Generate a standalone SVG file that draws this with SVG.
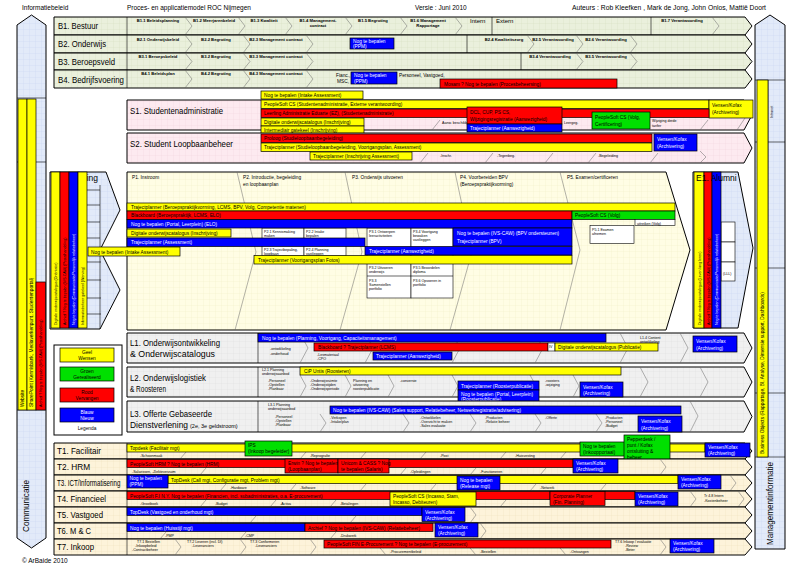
<svg xmlns="http://www.w3.org/2000/svg" width="788" height="569" viewBox="0 0 788 569">
<defs>
<style>
text{font-family:"Liberation Sans",Arial,Helvetica,sans-serif;fill:#000}
.h{font-size:6.5px}
.lb{font-size:9px}
.c{font-size:4.2px;font-weight:bold;text-anchor:middle}
.t{font-size:4.8px}
.tt{font-size:3.6px}
.tw{fill:#fff}
.k{stroke:#000;stroke-width:1}
.ln{stroke:#000;stroke-width:0.6;fill:none}
.gl{stroke:#666;stroke-width:0.5;fill:none}
.Y{fill:#ffff00;stroke:#000;stroke-width:0.7}
.R{fill:#ff0000;stroke:#000;stroke-width:0.7}
.B{fill:#0000ff;stroke:#000;stroke-width:0.7}
.G{fill:#00e000;stroke:#000;stroke-width:0.7}
.W{fill:#fff;stroke:#000;stroke-width:0.6}
</style>
<pattern id="pb" width="6" height="6" patternUnits="userSpaceOnUse"><rect width="6" height="6" fill="#e2eaf9"/><path d="M6 0V6H0" fill="none" stroke="#c6d4ee" stroke-width="0.5"/></pattern>
<pattern id="pg" width="6" height="6" patternUnits="userSpaceOnUse"><rect width="6" height="6" fill="#eaf0dc"/><path d="M6 0V6H0" fill="none" stroke="#d3ddbb" stroke-width="0.5"/></pattern>
<pattern id="pp" width="6" height="6" patternUnits="userSpaceOnUse"><rect width="6" height="6" fill="#fdeaf0"/><path d="M6 0V6H0" fill="none" stroke="#f1d3dd" stroke-width="0.5"/></pattern>
<pattern id="py" width="6" height="6" patternUnits="userSpaceOnUse"><rect width="6" height="6" fill="#fffde4"/><path d="M6 0V6H0" fill="none" stroke="#efeac4" stroke-width="0.5"/></pattern>
<pattern id="pl" width="6" height="6" patternUnits="userSpaceOnUse"><rect width="6" height="6" fill="#f0f0f0"/><path d="M6 0V6H0" fill="none" stroke="#dcdcdc" stroke-width="0.5"/></pattern>
<pattern id="pt" width="6" height="6" patternUnits="userSpaceOnUse"><rect width="6" height="6" fill="#fdf3da"/><path d="M6 0V6H0" fill="none" stroke="#ece0bd" stroke-width="0.5"/></pattern>
</defs>
<rect width="788" height="569" fill="#fff"/>

<g id="header">
<text class="h" x="22" y="10">Informatiebeleid</text>
<text class="h" x="127" y="10">Proces- en applicatiemodel ROC Nijmegen</text>
<text class="h" x="415" y="10">Versie : Juni 2010</text>
<text class="h" x="572" y="10" textLength="194" lengthAdjust="spacingAndGlyphs">Auteurs : Rob Kleefken , Mark de Jong, John Onlos, Mattië Doort</text>
<text class="h" x="22" y="563">© ArBaide 2010</text>
</g>

<g id="informatiebeleid">
<path d="M17,25 L31.5,15 L46,25 L46,538 L31.5,548 L17,538 Z" fill="url(#pb)" class="k"/>
<path class="ln" d="M17,98H46M17,162H46M17,410H46"/>
<rect class="Y" x="18" y="99" width="9" height="311"/>
<rect class="Y" x="27" y="99" width="9" height="311"/>
<rect class="R" x="36" y="282" width="9.5" height="128"/>
<text class="t" transform="rotate(-90 24.2 407)" x="24.2" y="407">Website</text>
<text class="t" transform="rotate(-90 33.2 407)" x="33.2" y="407">SharePoint (Kennisbank, Mediaverkenpunt, Studentenportal)</text>
<text class="tt" transform="rotate(-90 42 407)" x="42" y="407">Archief ? Nog te bepalen (IVS-CAW) (Postafhandeling)</text>
<text transform="rotate(-90 29 532)" x="29" y="532" font-size="9.5" textLength="52" lengthAdjust="spacingAndGlyphs">Communicatie</text>
</g>

<g id="managementinformatie">
<path d="M755,25 L770,15 L785,25 L785,549 L755,549 Z" fill="url(#pb)" class="k"/>
<path class="ln" d="M755,80H785M755,142H785M755,268H785M755,393H785M755,457H785M768,80V457"/>
<rect class="Y" x="757" y="80" width="11" height="377"/>
<text class="t" font-size="4.7" transform="rotate(-90 764.2 454)" x="764.2" y="454">Business Objects (Rapportage, BI, Analyse, Dimensie support, Dashboards)</text>
<text class="tt" transform="rotate(-90 773 118)" x="773" y="118">Intranet</text>
<text font-size="9" transform="rotate(-90 773 545)" x="773" y="545" textLength="83" lengthAdjust="spacingAndGlyphs">Managementinformatie</text>
</g>

<g id="b1">
<polygon points="54,17 745,17 752,26 745,35 54,35" fill="url(#pg)" class="k"/>
<path class="ln" d="M127,17V35M492,17V88M651,17V35"/>
<path class="gl" d="M185,17L192,26L185,35M238,17L245,26L238,35M285,17L292,26L285,35M345,17L352,26L345,35M400,17L407,26L400,35M455,17L462,26L455,35M712,17L719,26L712,35"/>
<text class="lb" x="58" y="29" textLength="40" lengthAdjust="spacingAndGlyphs">B1. Bestuur</text>
<text class="c" x="158" y="22">B1.1 Beleidsplanning</text>
<text class="c" x="214" y="22">B1.2 Meerjarenbeleid</text>
<text class="c" x="264" y="22">B1.3 Kwaliteit</text>
<text class="c" x="318" y="22">B1.4 Management-</text><text class="c" x="318" y="27">contract</text>
<text class="c" x="373" y="22">B1.5 Begroting</text>
<text class="c" x="428" y="22">B1.6 Management</text><text class="c" x="428" y="27">Rapportage</text>
<text font-size="6" x="470" y="23">Intern</text>
<text font-size="6" x="496" y="23">Extern</text>
<text class="c" x="682" y="22">B1.7 Verantwoording</text>
</g>

<g id="b2">
<polygon points="54,35 745,35 752,44 745,53 54,53" fill="url(#pg)" class="k"/>
<path class="ln" d="M127,35V53M467,35V53"/>
<path class="gl" d="M185,35L192,44L185,53M243,35L250,44L243,53M306,35L313,44L306,53M527,35L534,44L527,53M576,35L583,44L576,53M630,35L637,44L630,53"/>
<text class="lb" x="58" y="47" textLength="48" lengthAdjust="spacingAndGlyphs">B2. Onderwijs</text>
<text class="c" x="158" y="41">B2.1 Onderwijsbeleid</text>
<text class="c" x="216" y="41">B2.2 Begroting</text>
<text class="c" x="276" y="41">B2.3 Management contract</text>
<rect class="B" x="350" y="38" width="44" height="11"/>
<text class="t tw" font-size="4.4" x="353" y="42.5">Nog te bepalen</text><text class="t tw" font-size="4.4" x="353" y="47.8">(PPM)</text>
<text class="c" x="504" y="41">B2.4 Kwaliteitszorg</text>
<text class="c" x="553" y="41">B2.5 Verantwoording</text>
<text class="c" x="606" y="41">B2.6 Verantwoording</text>
</g>

<g id="b3">
<polygon points="54,53 745,53 752,61.5 745,70 54,70" fill="url(#pg)" class="k"/>
<path class="ln" d="M127,53V70M521,53V70"/>
<path class="gl" d="M185,53L192,61.5L185,70M243,53L250,61.5L243,70M306,53L313,61.5L306,70M576,53L583,61.5L576,70M630,53L637,61.5L630,70"/>
<text class="lb" x="58" y="65" textLength="57" lengthAdjust="spacingAndGlyphs">B3. Beroepsveld</text>
<text class="c" x="158" y="58">B3.1 Beroepsbeleid</text>
<text class="c" x="216" y="58">B3.2 Begroting</text>
<text class="c" x="276" y="58">B3.3 Management contract</text>
<text class="c" x="550" y="58">B3.4 Verantwoording</text>
<text class="c" x="606" y="58">B3.5 Verantwoording</text>
</g>

<g id="b4">
<polygon points="54,70 745,70 752,79 745,88 54,88" fill="url(#pg)" class="k"/>
<path class="ln" d="M127,70V88"/>
<path class="gl" d="M185,70L192,79L185,88M243,70L250,79L243,88M306,70L313,79L306,88"/>
<text class="lb" x="58" y="83" textLength="66" lengthAdjust="spacingAndGlyphs">B4. Bedrijfsvoering</text>
<text class="c" x="158" y="75">B4.1 Beleidsplan</text>
<text class="c" x="216" y="75">B4.2 Begroting</text>
<text class="c" x="276" y="75">B4.3 Management contract</text>
<text class="t" x="336" y="77">Fianc.,</text><text class="t" x="337" y="83">MSC,</text>
<rect class="B" x="351" y="72" width="46" height="12"/>
<text class="t tw" font-size="4.5" x="354" y="77">Nog te bepalen</text><text class="t tw" font-size="4.5" x="354" y="82.6">(PPM)</text>
<text class="t" x="399" y="77">Personeel, Vastgoed,</text>
<rect class="R" x="440" y="79" width="177" height="9"/>
<text class="t" x="444" y="85.5">Mosam ? Nog te bepalen (Procesbeheersing)</text>
</g>

<g id="s1">
<polygon points="127,100 744,100 752,115 744,130 127,130" fill="url(#pp)" class="k"/>
<path class="gl" d="M432,130L440,120M548,130L556,120M612,130L620,120M700,130L708,120M737,130L745,118"/>
<text font-size="9.5" x="130" y="114" textLength="93" lengthAdjust="spacingAndGlyphs">S1. Studentenadministratie</text>
<rect class="Y" x="261" y="91" width="102" height="8"/><text class="t" x="264" y="97">Nog te bepalen (Intake Assessment)</text>
<rect class="Y" x="261" y="100" width="448" height="8.5"/><text class="t" x="264" y="106">PeopleSoft CS (Studentenadministratie, Externe verantwoording)</text>
<rect class="Y" x="709" y="100" width="44" height="18"/><text class="t" x="712" y="107">Vensen/Kofax</text><text class="t" x="712" y="114">(Archivering)</text>
<rect class="R" x="261" y="109" width="448" height="8.5"/><text class="t" x="264" y="115">Leerling Administratie Eduarte (EZ), (Studentenadministratie)</text>
<rect class="Y" x="261" y="118" width="103" height="8"/><text class="t" x="264" y="124">Digitale onderwijscatalogus (Inschrijving)</text>
<rect class="Y" x="261" y="126" width="103" height="8"/><text class="t" x="264" y="132">Intermediair gatekeel (Inschrijving)</text>
<text class="tt" x="442" y="124">Aanw. beschikbaar</text>
<rect class="R" x="467" y="107" width="95" height="17"/><text class="t" x="470" y="114">DCL, CUP, PS CS,</text><text class="t" x="470" y="121">Wijzigingsregistratie (Aanwezigheid)</text>
<rect class="B" x="467" y="124" width="95" height="8"/><text class="t tw" x="470" y="130">Trajectplanner (Aanwezigheid)</text>
<text class="tt" x="564" y="124">Leergeg.</text>
<rect class="G" x="592" y="112" width="58" height="17"/><text class="t" x="595" y="119">PeopleSoft CS (Volg,</text><text class="t" x="595" y="126">Certificering)</text>
<text class="tt" x="652" y="122">Wijziging derde</text><text class="tt" x="652" y="127">tarifer</text>
</g>

<g id="s2">
<polygon points="127,133 744,133 752,148 744,163 127,163" fill="url(#pp)" class="k"/>
<path class="gl" d="M420,163L428,153M485,163L493,153M545,163L553,153M588,163L596,153M650,163L658,153M700,151L706,157L700,163"/>
<text font-size="9.5" x="130" y="147" textLength="103" lengthAdjust="spacingAndGlyphs">S2. Student Loopbaanbeheer</text>
<rect class="R" x="261" y="134" width="391" height="8.5"/><text class="t" x="264" y="140">Proloog (Studieloopbaanbegeleiding)</text>
<rect class="Y" x="261" y="143" width="391" height="8.5"/><text class="t" x="264" y="149">Trajectplanner (Studieloopbaanbegeleiding, Voortgangsplan, Assessment)</text>
<rect class="Y" x="310" y="152" width="102" height="8"/><text class="t" x="313" y="158">Trajectplanner (Inschrijving Assessment)</text>
<text class="tt" x="440" y="157">-Inschr.</text><text class="tt" x="497" y="157">-Tegenbeg.</text><text class="tt" x="598" y="157">-Begeleiding</text>
<rect class="B" x="654" y="134" width="43" height="17"/><text class="t tw" x="657" y="141">Vensen/Kofax</text><text class="t tw" x="657" y="148">(Archivering)</text>
</g>

<g id="werving">
<polygon points="50,172 106,172 120,210 100,250 120,290 100,329 50,329" fill="url(#pb)" class="k"/>
<path class="ln" d="M87,190H100M87,205H100M87,222H100M87,238H100M87,262H101M87,280H101M87,298H101M87,314H101M100,185V329"/>
<text font-size="8.5" x="67" y="181">Werving</text>
<rect class="Y" x="51" y="172" width="9" height="156"/>
<rect class="R" x="60" y="172" width="9" height="156"/>
<rect class="B" x="69" y="172" width="9" height="156"/>
<rect class="Y" x="78" y="172" width="9" height="156"/>
<text class="tt" font-size="4.2" transform="rotate(-90 57 325)" x="57" y="325">Digitale onderwijscatalogus (Oriëntatie)</text>
<text class="tt" font-size="4.2" transform="rotate(-90 66 325)" x="66" y="325">Archief ? Nog te bepalen (IVS-CAW) (Postafhandeling)</text>
<text class="tt tw" font-size="4.2" transform="rotate(-90 75 325)" x="75" y="325">Nog te bepalen (Communicatie/Persoonlijk relatiebeheer)</text>
<text class="tt" font-size="4.2" transform="rotate(-90 84 325)" x="84" y="325">Informatiebeheer gatekeel (Werving)</text>
</g>

<g id="primair-proces">
<polygon points="127,172 666,172 690,250 666,330 127,330" fill="url(#py)" class="k"/>
<path class="gl" d="M237,172L256,252L235,330M345,172L362,252L340,330M455,172L472,252L450,330M560,172L580,250L560,330"/>
<text class="t" x="132" y="179">P1. Instroom</text>
<text class="t" x="243" y="179">P2. Introductie, begeleiding</text><text class="t" x="243" y="186">en loopbaanplan</text>
<text class="t" x="352" y="179">P3. Onderwijs uitvoeren</text>
<text class="t" x="460" y="179">P4. Voorbereiden BPV</text><text class="t" x="460" y="186">(Beroepspraktijkvorming)</text>
<text class="t" x="567" y="179">P5. Examen/certificeren</text>
<rect class="W" x="262" y="228" width="42" height="28"/><rect class="W" x="304" y="228" width="42" height="28"/>
<text class="tt" x="264" y="233">P2.1 Kennismaking</text><text class="tt" x="264" y="237">maken</text>
<text class="tt" x="306" y="233">P2.2 Intake</text><text class="tt" x="306" y="237">bepalen</text>
<text class="tt" x="264" y="251">P2.3 Trajectbepaling,</text><text class="tt" x="264" y="255">loopbaan</text>
<text class="tt" x="306" y="251">P2.4 Planning</text><text class="tt" x="306" y="255">vastleggen</text>
<rect class="W" x="367" y="228" width="44" height="70"/><rect class="W" x="411" y="228" width="42" height="70"/>
<path class="ln" d="M367,276H453"/>
<text class="tt" x="369" y="233">P3.1 Ontwerpen</text><text class="tt" x="369" y="237">leeractiviteiten</text>
<text class="tt" x="413" y="233">P3.4 Voortgang</text><text class="tt" x="413" y="237">bewaken</text><text class="tt" x="413" y="241">vastleggen</text>
<text class="tt" x="369" y="269">P3.2 Uitvoeren</text><text class="tt" x="369" y="273">onderwijs</text>
<text class="tt" x="413" y="269">P3.5 Beoordelen</text><text class="tt" x="413" y="273">diploma</text>
<text class="tt" x="369" y="282">P3.3</text><text class="tt" x="369" y="286">Samenstellen</text><text class="tt" x="369" y="290">portfolio</text>
<text class="tt" x="413" y="282">P3.6 Opvoeren in</text><text class="tt" x="413" y="286">portfolio</text>
<rect class="Y" x="127" y="203" width="548" height="8"/><text class="t" font-size="4.5" x="131" y="209">Trajectplanner (Beroepspraktijkvorming, LCMS, BPV, Volg, Competentie matenen)</text>
<rect class="R" x="127" y="211" width="445" height="8.5"/><text class="t" x="131" y="217">Blackboard (Beroepspraktijk, LCMS, ELO)</text>
<rect class="G" x="572" y="211" width="103" height="8.5"/><text class="t" x="575" y="217">PeopleSoft CS (Volg)</text>
<rect class="B" x="127" y="219.5" width="445" height="8.5"/><text class="t tw" x="131" y="226">Nog te bepalen (Portal, Leerplein) (ELO)</text>
<rect class="B" x="453" y="228" width="119" height="18"/><text class="t tw" x="457" y="235">Nog te bepalen (IVS-CAW) (BPV ondersteunen)</text><text class="t tw" x="457" y="243">Trajectplanner (BPV)</text>
<rect class="Y" x="127" y="229" width="104" height="8"/><text class="t" x="131" y="235">Digitale onderwijscatalogus (Inschrijving)</text>
<rect class="B" x="127" y="238" width="238" height="8.5"/><text class="t tw" x="131" y="244">Trajectplanner (Assessment)</text>
<rect class="B" x="365" y="246.5" width="207" height="8.5"/><text class="t tw" x="369" y="253">Trajectplanner (Aanwezigheid)</text>
<rect class="Y" x="254" y="255.5" width="318" height="8.5"/><text class="t" x="258" y="261.5">Trajectplanner (Voortgangsplan Fotos)</text>
<rect class="Y" x="88" y="247" width="92" height="9"/><text class="t" x="91" y="253.5">Nog te bepalen (Intake Assessment)</text>
<rect class="W" x="635" y="219.5" width="40" height="6"/><text class="tt" x="637" y="224.5">uitreiken (Volg)</text>
<rect class="W" x="590" y="225.5" width="44" height="18"/><text class="tt" x="592" y="231">P5.1 Examen</text><text class="tt" x="592" y="235">afnemen</text>
</g>

<g id="alumni">
<polygon points="693,172 738,172 753,248 738,328 693,328" fill="url(#pb)" class="k"/>
<rect class="W" x="721" y="222" width="14" height="20"/><rect class="W" x="721" y="242" width="14" height="20"/><rect class="W" x="721" y="262" width="14" height="19"/>
<text class="tt" x="723" y="275">(LLL)</text>
<rect class="Y" x="694" y="172" width="10" height="156"/>
<rect class="R" x="704" y="172" width="8" height="156"/>
<rect class="B" x="712" y="172" width="9" height="156"/>
<text class="tt" font-size="4.2" transform="rotate(-90 700.5 325)" x="700.5" y="325">Digitale onderwijscatalogus (Leven lang leren)</text>
<text class="tt" font-size="4.2" transform="rotate(-90 709.5 325)" x="709.5" y="325">Archief ? Nog te bepalen (IVS-CAW) (Postafhandeling)</text>
<text class="tt tw" font-size="4.2" transform="rotate(-90 718 325)" x="718" y="325">Nog te bepalen (Communicatie/Persoonlijk relatiebeheer)</text>
<text font-size="8.5" x="696" y="181">E1. Alumni</text>
</g>

<g id="legenda">
<rect x="54" y="345" width="68" height="90" fill="#fff" class="k"/>
<rect class="Y" x="60" y="348" width="54" height="14"/><text class="t" x="87" y="354" text-anchor="middle">Geel</text><text class="t" x="87" y="360" text-anchor="middle">Wensen</text>
<rect class="G" x="60" y="367" width="54" height="14"/><text class="t" x="87" y="373" text-anchor="middle">Groen</text><text class="t" x="87" y="379" text-anchor="middle">Gerealiseerd</text>
<rect class="R" x="60" y="388" width="54" height="14"/><text class="t" x="87" y="394" text-anchor="middle">Rood</text><text class="t" x="87" y="400" text-anchor="middle">Vervangen</text>
<rect class="B" x="60" y="408" width="54" height="14"/><text class="t tw" x="87" y="414" text-anchor="middle">Blauw</text><text class="t tw" x="87" y="420" text-anchor="middle">Nieuw</text>
<text class="t" x="87" y="430" text-anchor="middle">Legenda</text>
</g>

<g id="l1">
<polygon points="127,333 744,333 752,348 744,363 127,363" fill="url(#pl)" class="k"/>
<path class="ln" d="M258,333V363"/>
<path class="gl" d="M300,333L308,348L300,363M365,333L373,348L365,363M452,333L460,348L452,363M535,333L543,348L535,363M620,333L628,348L620,363M680,333L688,348L680,363"/>
<text font-size="9" x="130" y="346" textLength="90" lengthAdjust="spacingAndGlyphs">L1. Onderwijsontwikkeling</text>
<text font-size="9" x="130" y="357" textLength="85" lengthAdjust="spacingAndGlyphs">&amp; Onderwijscatalogus</text>
<rect class="B" x="258" y="333.5" width="348" height="8.5"/><text class="t tw" x="262" y="340">Nog te bepalen (Planning, Voortgang, Capaciteitsmanagement)</text>
<text class="tt" x="270" y="350">-ontwikkeling</text><text class="tt" x="270" y="355">-onderhoud</text>
<rect class="R" x="314" y="343" width="234" height="8"/><text class="t" x="318" y="349">Blackboard ? Trajectplanner (LCMS)</text>
<rect class="W" x="548" y="343" width="7" height="8"/><text class="tt" x="549" y="348">IV</text>
<rect class="Y" x="555" y="343" width="103" height="8"/><text class="t" x="558" y="349">Digitale onderwijscatalogus (Publicatie)</text>
<text class="tt" x="317" y="356">-Lesmateriaal</text><text class="tt" x="317" y="360">-CPO</text>
<rect class="B" x="373" y="352" width="79" height="8"/><text class="t tw" x="376" y="358">Trajectplanner (Aanwezigheid)</text>
<text class="tt" x="640" y="339">L1.4 Content</text><text class="tt" x="640" y="343">ontwikkeling</text>
<rect class="B" x="693" y="336" width="44" height="16"/><text class="t tw" x="696" y="343">Vensen/Kofax</text><text class="t tw" x="696" y="350">(Archivering)</text>
</g>

<g id="l2">
<polygon points="127,367 744,367 752,382 744,397 127,397" fill="url(#pl)" class="k"/>
<path class="ln" d="M258,367V397"/>
<path class="gl" d="M300,375L306,386L300,397M345,375L351,386L345,397M388,375L394,386L388,397M452,375L458,386L452,397M530,375L536,386L530,397M573,375L579,386L573,397M640,367L648,382L640,397M700,367L708,382L700,397"/>
<text font-size="9" x="130" y="381" textLength="76" lengthAdjust="spacingAndGlyphs">L2. Onderwijslogistiek</text>
<text font-size="9" x="130" y="392" textLength="36" lengthAdjust="spacingAndGlyphs">&amp; Roosteren</text>
<text class="tt" x="262" y="371">L2.1 Planning</text><text class="tt" x="262" y="375">onderwijsaanbod</text>
<text class="tt" x="268" y="382">-Personeel</text><text class="tt" x="268" y="386">-Opstellen</text><text class="tt" x="268" y="390">-Planbaar</text>
<rect class="Y" x="300" y="367" width="321" height="8"/><text class="t" x="304" y="373">CiP Untis (Roosteren)</text>
<text class="tt" x="310" y="382">-Onderwijsruimte</text><text class="tt" x="310" y="386">-Onderwijstijden</text><text class="tt" x="310" y="390">-Onderwijsperiode</text>
<text class="tt" x="353" y="382">Planning en</text><text class="tt" x="353" y="386">uitvoering</text><text class="tt" x="353" y="390">roosterpublicatie</text>
<text class="tt" x="400" y="382">-conversie</text>
<rect class="B" x="458" y="381" width="81" height="9"/><text class="t tw" x="461" y="387.5">Trajectplanner (Roosterpublicatie)</text>
<rect class="B" x="458" y="390" width="81" height="13"/><text class="t tw" x="461" y="395.5">Nog te bepalen (Portal, Leerplein)</text><text class="t tw" x="461" y="401">(Roosterpublicatie)</text>
<text class="tt" x="545" y="382">-roosters</text><text class="tt" x="545" y="386">-wijziging</text>
<rect class="B" x="580" y="382" width="43" height="15"/><text class="t tw" x="583" y="388.5">Vensen/Kofax</text><text class="t tw" x="583" y="395">(Archivering)</text>
</g>

<g id="l3">
<polygon points="127,401 744,401 752,416.5 744,432 127,432" fill="url(#pl)" class="k"/>
<path class="ln" d="M258,401V432"/>
<path class="gl" d="M320,414L326,423L320,432M403,414L409,423L403,432M470,414L476,423L470,432M535,414L541,423L535,432M596,414L602,423L596,432M690,401L698,416L690,432"/>
<text font-size="9" x="130" y="417" textLength="82" lengthAdjust="spacingAndGlyphs">L3. Offerte Gebaseerde</text>
<text font-size="9" x="130" y="428"><tspan textLength="58" lengthAdjust="spacingAndGlyphs">Dienstverlening</tspan><tspan font-size="5.5" dx="2">(2e, 3e geldstroom)</tspan></text>
<text class="tt" x="268" y="406">L3.1 Planning</text><text class="tt" x="268" y="410">onderwijsaanbod</text>
<text class="tt" x="275" y="418">-Personeel</text><text class="tt" x="275" y="422">-Opstellen</text><text class="tt" x="275" y="426">-Planbaar</text>
<rect class="B" x="330" y="406" width="351" height="8"/><text class="t tw" x="333" y="412">Nog te bepalen (IVS-CAW) (Sales support, Relatiebeheer, Netwerkregistratie/advisering)</text>
<text class="tt" x="330" y="419">-Verkopen</text><text class="tt" x="330" y="423">-Intake/plan</text>
<text class="tt" x="420" y="419">-Ontwikkelen</text><text class="tt" x="420" y="423">-Overzicht te maken</text><text class="tt" x="420" y="427">-Sales evaluatie</text>
<text class="tt" x="485" y="419">-Producten</text><text class="tt" x="485" y="423">-Relatie beheer</text>
<text class="tt" x="545" y="419">-Offerte</text><text class="tt" x="605" y="419">-Producten</text><text class="tt" x="605" y="423">-Personeel</text><text class="tt" x="605" y="427">-Budget</text>
<rect class="B" x="638" y="416" width="44" height="16"/><text class="t tw" x="641" y="423">Vensen/Kofax</text><text class="t tw" x="641" y="430">(Archivering)</text>
</g>

<g id="t1">
<polygon points="54,443 745,443 752,451 745,459 54,459" fill="url(#pt)" class="k"/>
<path class="ln" d="M127,443V459"/>
<path class="gl" d="M180,459L186,452M300,459L306,452M360,459L366,452M420,459L426,452M500,459L506,452M560,459L566,452"/>
<text font-size="9" x="57" y="454" textLength="44" lengthAdjust="spacingAndGlyphs">T1. Facilitair</text>
<rect class="Y" x="127" y="444" width="578" height="8"/><text class="t" x="130" y="450">Topdesk (Facilitair mgt)</text>
<text class="tt" x="140" y="457">-Schoonmaak</text><text class="tt" x="310" y="457">-Reprografie</text><text class="tt" x="440" y="457">-Post</text><text class="tt" x="515" y="457">-Huisvesting</text>
<rect class="G" x="245" y="441" width="47" height="15"/><text class="t" x="248" y="447">IPS</text><text class="t" x="248" y="453">(Inkoop begeleider)</text>
<rect class="G" x="580" y="442" width="45" height="14"/><text class="t" x="583" y="448">Nog te bepalen</text><text class="t" x="583" y="454">(Inkoopportaal)</text>
<rect class="G" x="624" y="435" width="46" height="27"/><text class="t" x="627" y="441">Pepperdesk /</text><text class="t" x="627" y="447">punt / Kofax</text><text class="t" x="627" y="453">ontsluiting &amp;</text><text class="t" x="627" y="459">beheer</text>
<rect class="B" x="705" y="443" width="45" height="14"/><text class="t tw" x="708" y="449">Vensen/Kofax</text><text class="t tw" x="708" y="455">(Archivering)</text>
</g>

<g id="t2">
<polygon points="54,459 745,459 752,467 745,475 54,475" fill="url(#pt)" class="k"/>
<path class="ln" d="M127,459V475"/>
<path class="gl" d="M200,475L206,468M400,475L406,468M470,475L476,468M540,475L546,468M660,459L666,467L660,475"/>
<text font-size="9" x="57" y="470" textLength="33" lengthAdjust="spacingAndGlyphs">T2. HRM</text>
<rect class="R" x="127" y="459.5" width="446" height="8"/><text class="t" x="130" y="465.5">PeopleSoft HRM ? Nog te bepalen (HRM)</text>
<text class="tt" x="132" y="473">-Salarissen, -Ziekteverzuim</text><text class="tt" x="410" y="473">-Opleidingen</text><text class="tt" x="480" y="473">-Functioneren</text>
<rect class="R" x="285" y="459" width="53" height="14"/><text class="t" x="288" y="465">Erwin ? Nog te bepalen</text><text class="t" x="288" y="471">(Loopbaanplan)</text>
<rect class="R" x="338" y="459" width="51" height="14"/><text class="t" x="341" y="465">Unicom &amp; CASS ? Nog</text><text class="t" x="341" y="471">te bepalen (Salaris)</text>
<rect class="B" x="573" y="459" width="45" height="14"/><text class="t tw" x="576" y="465">Vensen/Kofax</text><text class="t tw" x="576" y="471">(Archivering)</text>
</g>

<g id="t3">
<polygon points="54,475 745,475 752,483 745,491 54,491" fill="url(#pt)" class="k"/>
<path class="ln" d="M127,475V491"/>
<path class="gl" d="M220,491L226,484M290,491L296,484M360,491L366,484M430,491L436,484M530,491L536,484M600,491L606,484M730,475L736,483L730,491"/>
<text font-size="9" transform="translate(57 486) scale(0.69 1)" x="0" y="0">T3. ICT/Informatisering</text>
<rect class="Y" x="168" y="475.5" width="510" height="8"/><text class="t" x="171" y="481.5">TopDesk (Call mgt, Configuratie mgt, Problem mgt)</text>
<rect class="B" x="127" y="475" width="41" height="13"/><text class="t tw" font-size="4.4" x="129.5" y="480">Nog te bepalen</text><text class="t tw" font-size="4.4" x="129.5" y="486.2">(PPM)</text>
<text class="tt" x="230" y="489">-Hardware</text><text class="tt" x="300" y="489">-Software</text><text class="tt" x="540" y="489">-Netwerk</text>
<rect class="B" x="457" y="476" width="43" height="14"/><text class="t tw" x="460" y="482">Nog te bepalen</text><text class="t tw" x="460" y="488">(Release mgt)</text>
<rect class="B" x="678" y="475" width="43" height="14"/><text class="t tw" x="681" y="481">Vensen/Kofax</text><text class="t tw" x="681" y="487">(Archivering)</text>
</g>

<g id="t4">
<polygon points="54,491 745,491 752,499 745,507 54,507" fill="url(#pt)" class="k"/>
<path class="ln" d="M127,491V507"/>
<path class="gl" d="M200,507L206,500M270,507L276,500M330,507L336,500M500,507L506,500M690,491L696,499L690,507M738,491L744,499L738,507"/>
<text font-size="9" x="57" y="502" textLength="49" lengthAdjust="spacingAndGlyphs">T4. Financieel</text>
<rect class="R" x="127" y="491.5" width="478" height="8"/><text class="t" x="130" y="497.5">PeopleSoft F.I N.Y. Nog te bepalen (Financien, incl. subadministraties, o.a. E-procurement)</text>
<text class="tt" x="140" y="505">-Grootboek</text><text class="tt" x="215" y="505">-Budget</text><text class="tt" x="280" y="505">-Activa</text><text class="tt" x="340" y="505">-Betalingen</text>
<rect class="Y" x="390" y="492" width="86" height="14"/><text class="t" x="393" y="498">PeopleSoft CS (Incasso, Stam,</text><text class="t" x="393" y="504">Incasso, Debiteuren)</text>
<rect class="R" x="550" y="491.5" width="85" height="8"/>
<rect class="R" x="550" y="491.5" width="55" height="14"/><text class="t" x="553" y="497.5">Corporate Planner</text><text class="t" x="553" y="503.5">(Fin. Planning)</text>
<rect class="B" x="635" y="492" width="43" height="14"/><text class="t tw" x="638" y="498">Vensen/Kofax</text><text class="t tw" x="638" y="504">(Archivering)</text>
<text class="tt" x="704" y="497">Tr 4.8 Intern</text><text class="tt" x="704" y="502">-Kostenbeheer</text>
</g>

<g id="t5">
<polygon points="54,507 745,507 752,515 745,523 54,523" fill="url(#pt)" class="k"/>
<path class="ln" d="M127,507V523"/>
<path class="gl" d="M250,523L256,516M350,523L356,516M470,507L476,515L470,523"/>
<text font-size="9" x="57" y="518" textLength="46" lengthAdjust="spacingAndGlyphs">T5. Vastgoed</text>
<rect class="B" x="127" y="507.5" width="295" height="8"/><text class="t tw" x="130" y="513.5">TopDesk (Vastgoed en onderhoud mgt)</text>
<rect class="B" x="422" y="507.5" width="43" height="14"/><text class="t tw" x="425" y="513.5">Vensen/Kofax</text><text class="t tw" x="425" y="519.5">(Archivering)</text>
</g>

<g id="t6">
<polygon points="54,523 745,523 752,531 745,539 54,539" fill="url(#pt)" class="k"/>
<path class="ln" d="M127,523V539"/>
<path class="gl" d="M160,539L166,532M240,539L246,532M330,539L336,532M480,523L486,531L480,539"/>
<text font-size="9" x="57" y="534" textLength="34" lengthAdjust="spacingAndGlyphs">T6. M &amp; C</text>
<rect class="B" x="127" y="523.5" width="178" height="8"/><text class="t tw" x="130" y="529.5">Nog te bepalen (Huisstijl mgt)</text>
<text class="tt" x="165" y="537">-PMP</text><text class="tt" x="245" y="537">-CMP</text><text class="tt" x="340" y="537">-Drukwerk</text>
<rect class="R" x="305" y="523.5" width="128" height="8"/><text class="t" x="308" y="529.5">Archief ? Nog te bepalen (IVS-CAW) (Relatiebeheer)</text>
<rect class="B" x="435" y="523" width="43" height="14"/><text class="t tw" x="438" y="529">Vensen/Kofax</text><text class="t tw" x="438" y="535">(Archivering)</text>
</g>

<g id="t7">
<polygon points="54,539 745,539 752,547 745,555 54,555" fill="url(#pt)" class="k"/>
<path class="ln" d="M127,539V555"/>
<path class="gl" d="M175,539L181,547L175,555M240,539L246,547L240,555M310,539L316,547L310,555M380,548L386,555M470,548L476,555M560,548L566,555M660,539L666,547L660,555"/>
<text font-size="9" x="57" y="550" textLength="37" lengthAdjust="spacingAndGlyphs">T7. Inkoop</text>
<text class="tt" x="137" y="543">T7.1 Bestellen</text><text class="tt" x="135" y="547">-Inkoopbeleid</text><text class="tt" x="132" y="551">-Contractbeheer</text>
<text class="tt" x="187" y="543">T7.2 Leveren (incl. DI)</text><text class="tt" x="192" y="547">-Leveranciers</text>
<text class="tt" x="250" y="543">T7.3 Conformeren</text><text class="tt" x="255" y="547">-Leveranciers</text>
<rect class="R" x="324" y="540" width="287" height="8"/><text class="t" x="327" y="546">PeopleSoft FIN E-Procurement ? Nog te bepalen (E-procurement)</text>
<text class="tt" x="390" y="553">-Procurementbeleid</text><text class="tt" x="480" y="553">-Bestellen</text><text class="tt" x="570" y="553">-Ontvangen</text>
<text class="tt" x="615" y="543">T7.6 Inkoop / evaluatie</text><text class="tt" x="625" y="547">-Review</text><text class="tt" x="625" y="551">-Beter</text>
<rect class="B" x="670" y="539" width="44" height="14"/><text class="t tw" x="673" y="545">Vensen/Kofax</text><text class="t tw" x="673" y="551">(Archivering)</text>
</g>

<g id="connectors"></g>
</svg>
